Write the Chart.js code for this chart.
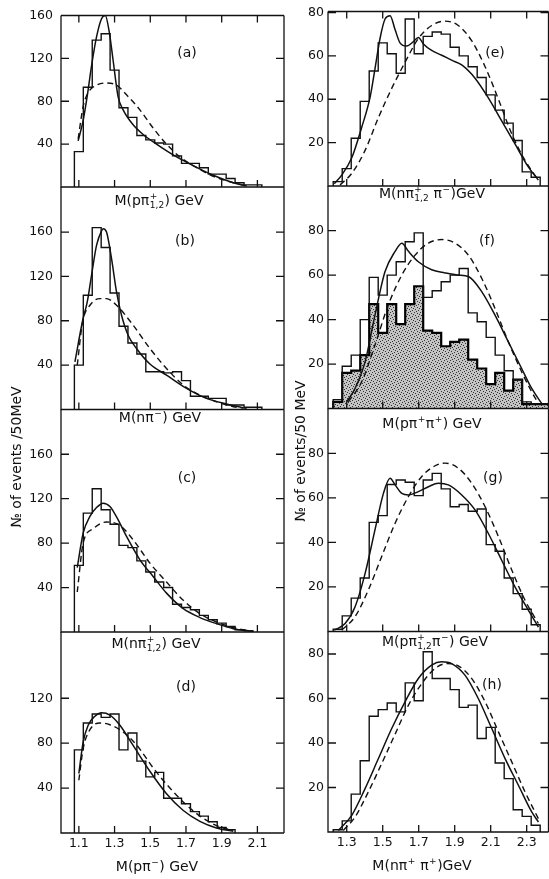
<!DOCTYPE html>
<html>
<head>
<meta charset="utf-8">
<script src="https://cdn.jsdelivr.net/npm/chart.js@4.4.1/dist/chart.umd.min.js"></script>
<style>
html, body { margin: 0; padding: 0; background: #fff; }
#wrap { position: relative; width: 549px; height: 879px; }
#wrap canvas { position: absolute; left: 0; top: 0; }
</style>
</head>
<body>
<div id="wrap"></div>
<script>
// 50 MeV bins
var binW = 0.05;
var binStartL = 1.075;
var binStartR = 1.225;

var xTicksL = [1.1, 1.3, 1.5, 1.7, 1.9, 2.1];
var xTicksR = [1.3, 1.5, 1.7, 1.9, 2.1, 2.3];
var yTicksL = [40, 80, 120, 160];
var yTicksD = [40, 80, 120];
var yTicksR = [20, 40, 60, 80];

// histograms (events per bin)
var histA = [33, 93, 137, 143, 109, 74, 65, 48, 44, 41, 40, 29, 22, 22, 18, 12, 12, 8, 4, 2, 2];
var histB = [40, 103, 164, 146, 105, 75, 60, 50, 34, 34, 33, 34, 26, 12, 12, 10, 10, 4, 4, 2, 2];
var histC = [60, 107, 129, 110, 97, 78, 76, 64, 54, 45, 40, 25, 22, 20, 15, 11, 8, 5, 2, 1];
var histD = [74, 98, 106, 103, 106, 74, 89, 64, 50, 54, 31, 31, 26, 19, 15, 10, 5, 3];
var histE = [2, 8, 22, 39, 53, 66, 61, 52, 77, 61, 69, 71, 70, 64, 60, 55, 50, 42, 35, 29, 21, 6.5, 4];
var histF = [4, 19, 24, 40, 59, 51, 60, 66, 75, 79, 50, 53, 57, 60, 63, 43, 39, 32, 24, 17, 13, 3, 2, 2];
var shadedF = [3, 16, 17, 24, 47, 34, 47, 38, 47, 55, 35, 34, 28, 30, 31, 22, 18, 11, 16, 8, 13, 2, 2, 2];
var histG = [1, 7, 15, 24, 49, 52, 66, 68, 67, 61, 68, 71, 64, 56, 57, 54, 55, 39, 36, 24, 17, 10, 3];
var histH = [1, 5, 17, 32, 52, 55, 58, 54, 67, 59, 81, 69, 69, 64, 56, 57, 42, 47, 31, 24, 10, 7, 3];

// fitted curves, [mass GeV, events]
var solidA = [[1.096,43],[1.124,62],[1.147,85],[1.171,113],[1.199,140],[1.227,157],[1.248,160],[1.27,145],[1.292,118],[1.32,84],[1.348,72],[1.404,58],[1.46,49],[1.535,40],[1.628,30],[1.74,20],[1.853,11],[1.965,4],[2.04,1]];
var dashA = [[1.096,45],[1.124,75],[1.152,88],[1.199,95],[1.255,97],[1.311,95],[1.367,86],[1.442,72],[1.516,55],[1.591,40],[1.666,28],[1.74,20],[1.853,10],[1.965,4],[2.04,1]];
var solidB = [[1.078,43],[1.121,80],[1.147,97],[1.171,121],[1.199,148],[1.227,161],[1.236,163],[1.255,160],[1.283,136],[1.311,106],[1.339,85],[1.376,67],[1.423,55],[1.498,41],[1.591,31],[1.703,19],[1.815,10],[1.927,5],[2.021,1.5]];
var dashB = [[1.091,40],[1.121,79],[1.162,94],[1.218,100],[1.255,100],[1.311,94],[1.404,76],[1.498,55],[1.591,37],[1.685,22],[1.778,13],[1.871,7],[1.965,2.5],[2.04,1]];
var solidC = [[1.091,58],[1.124,89],[1.162,104],[1.199,112],[1.236,116],[1.274,113],[1.32,101],[1.367,86],[1.442,65],[1.516,50],[1.591,35],[1.685,21],[1.778,13],[1.871,7.5],[1.965,3],[2.077,0.6]];
var dashC = [[1.091,36],[1.124,80],[1.18,93],[1.255,99],[1.33,96],[1.404,83],[1.498,62],[1.591,45],[1.685,28.5],[1.778,16.5],[1.871,9],[1.965,4],[2.077,0.6]];
var solidD = [[1.1,53],[1.124,81],[1.152,96],[1.19,104],[1.227,107],[1.274,105],[1.33,96],[1.404,78],[1.498,55],[1.591,35],[1.685,20],[1.778,10.4],[1.871,4.5],[1.965,1.5]];
var dashD = [[1.1,47],[1.124,75],[1.162,92],[1.218,98],[1.274,96.4],[1.348,90],[1.423,78.5],[1.516,58],[1.61,40],[1.703,25],[1.797,13],[1.89,5.4],[1.965,2.4]];
var solidE = [[1.231,1],[1.272,5],[1.328,13],[1.383,27],[1.43,41],[1.457,54],[1.485,68],[1.513,77],[1.541,78.5],[1.569,72],[1.596,66],[1.633,64.5],[1.67,66.5],[1.698,68.5],[1.726,65.5],[1.772,62.5],[1.828,60.3],[1.883,58],[1.939,55.8],[2.013,49.7],[2.087,40.6],[2.161,30],[2.235,19.4],[2.309,8.8],[2.365,2.7]];
var dashE = [[1.263,0.5],[1.328,5.8],[1.402,16.4],[1.476,31.5],[1.55,45],[1.624,57],[1.698,68],[1.772,74],[1.846,76],[1.92,74],[1.994,67],[2.069,55],[2.143,40],[2.217,24],[2.291,11.8],[2.365,2.7]];
var solidF = [[1.3,3],[1.346,9],[1.402,21],[1.457,42],[1.513,61.6],[1.569,70.7],[1.606,74.4],[1.643,70.7],[1.698,66],[1.772,62.4],[1.846,61],[1.92,60],[1.976,59.4],[2.05,52.6],[2.124,42],[2.198,30],[2.272,18],[2.328,9],[2.383,2.3]];
var dashF = [[1.309,3],[1.383,12],[1.457,28.6],[1.531,46.6],[1.606,60],[1.68,69],[1.754,74.4],[1.828,76],[1.902,74.4],[1.976,69],[2.05,58.6],[2.124,45],[2.198,30],[2.272,16.5],[2.328,7.5],[2.365,2.3]];
var solidG = [[1.231,0.6],[1.291,3.6],[1.346,11],[1.402,26],[1.457,45.6],[1.504,62],[1.541,68.8],[1.569,65.8],[1.606,62],[1.643,61.3],[1.698,62.8],[1.754,65],[1.809,66.6],[1.865,65.8],[1.939,61.3],[2.013,54.6],[2.087,44],[2.161,32],[2.235,20],[2.309,9.6],[2.365,2]];
var dashG = [[1.272,0.6],[1.346,6.6],[1.42,18.6],[1.494,33.6],[1.569,48.6],[1.643,60.6],[1.717,69.6],[1.791,74.4],[1.846,75.6],[1.92,73.3],[1.994,66.6],[2.069,56],[2.143,42.6],[2.217,27.6],[2.291,14],[2.365,3.6]];
var solidH = [[1.254,0.7],[1.328,7.5],[1.402,19.5],[1.476,33],[1.55,46.5],[1.624,58.5],[1.698,69],[1.772,75],[1.828,76.5],[1.883,75.7],[1.957,70.5],[2.031,60],[2.106,46.5],[2.18,33],[2.254,21],[2.328,9],[2.365,4.5]];
var dashH = [[1.281,0.7],[1.346,6.7],[1.42,18],[1.494,30.7],[1.569,44],[1.643,57],[1.717,66.7],[1.791,73.5],[1.856,75.7],[1.92,74.7],[1.994,69],[2.069,58.5],[2.143,45],[2.217,31.5],[2.291,18],[2.365,6]];

// axis titles: strings are normal text, [sup, sub] pairs are stacked scripts
var titleA = ['M(pπ', ['+', '1,2'], ') GeV'];
var titleB = ['M(nπ', ['−', ''], ') GeV'];
var titleC = ['M(nπ', ['+', '1,2'], ') GeV'];
var titleD = ['M(pπ', ['−', ''], ') GeV'];
var titleE = ['M(nπ', ['+', '1,2'], ' π', ['−', ''], ')GeV'];
var titleF = ['M(pπ', ['+', ''], 'π', ['+', ''], ') GeV'];
var titleG = ['M(pπ', ['+', '1,2'], 'π', ['−', ''], ') GeV'];
var titleH = ['M(nπ', ['+', ''], ' π', ['+', ''], ')GeV'];
var yTitleL = '№ of events /50MeV';
var yTitleR = '№ of events/50 MeV';

var W = 549, H = 879;
var INK = '#111';
var FONT = '"DejaVu Sans", "Liberation Sans", sans-serif';

var cols = {
    L: { left: 61, right: 284, xmin: 1.0, xmax: 2.249, xTicks: xTicksL, yw: 61, ypad: 8, start: binStartL },
    R: { left: 328, right: 549, xmin: 1.196, xmax: 2.424, xTicks: xTicksR, yw: 40, ypad: 4, start: binStartR }
};

var panels = [
    { col: 'L', top: 10, bottom: 187, ymax: 160, yTicks: yTicksL, hist: histA, solid: solidA, dash: dashA, letter: '(a)', lpos: [187, 53], title: titleA, tpos: [159, 205], topBorder: true },
    { col: 'L', top: 187, bottom: 409.5, ymax: 200.6, yTicks: yTicksL, hist: histB, solid: solidB, dash: dashB, letter: '(b)', lpos: [185, 241], title: titleB, tpos: [160, 422] },
    { col: 'L', top: 409.5, bottom: 632, ymax: 200.3, yTicks: yTicksL, hist: histC, solid: solidC, dash: dashC, letter: '(c)', lpos: [187, 478], title: titleC, tpos: [156, 648], yTitle: yTitleL, ytpos: [17, 457] },
    { col: 'L', top: 632, bottom: 833, ymax: 179, yTicks: yTicksD, hist: histD, solid: solidD, dash: dashD, letter: '(d)', lpos: [186, 687], title: titleD, tpos: [157, 871], showX: true },
    { col: 'R', top: 8, bottom: 186, ymax: 80.45, yTicks: yTicksR, hist: histE, solid: solidE, dash: dashE, letter: '(e)', lpos: [495, 53], title: titleE, tpos: [432, 198], topBorder: true },
    { col: 'R', top: 186, bottom: 408.5, ymax: 100.1, yTicks: yTicksR, hist: histF, shaded: shadedF, solid: solidF, dash: dashF, letter: '(f)', lpos: [487, 241], title: titleF, tpos: [432, 428] },
    { col: 'R', top: 408.5, bottom: 631.5, ymax: 100.1, yTicks: yTicksR, hist: histG, solid: solidG, dash: dashG, letter: '(g)', lpos: [493, 478], title: titleG, tpos: [435, 646], yTitle: yTitleR, ytpos: [301, 451] },
    { col: 'R', top: 631.5, bottom: 832, ymax: 90.1, yTicks: yTicksR, hist: histH, solid: solidH, dash: dashH, letter: '(h)', lpos: [492, 685], title: titleH, tpos: [422, 870], showX: true }
];

function histPoints(start, vals) {
    var pts = [{ x: start, y: 0 }];
    vals.forEach(function (v, k) { pts.push({ x: start + k * binW, y: v }); });
    var end = start + vals.length * binW;
    pts.push({ x: end, y: vals[vals.length - 1] });
    pts.push({ x: end, y: 0 });
    return pts;
}

function curvePoints(arr) {
    return arr.map(function (p) { return { x: p[0], y: p[1] }; });
}

function stipple() {
    var c = document.createElement('canvas');
    c.width = 6; c.height = 6;
    var g = c.getContext('2d');
    g.fillStyle = '#c4c4c4';
    g.fillRect(0, 0, 6, 6);
    g.fillStyle = '#333';
    [[0, 0], [3, 1], [1, 3], [4, 4], [5, 2], [2, 5]].forEach(function (d) { g.fillRect(d[0], d[1], 1, 1); });
    return g.createPattern(c, 'repeat');
}

function drawRich(ctx, parts, cx, cy) {
    var big = '14px ' + FONT, small = '9px ' + FONT;
    var widths = parts.map(function (p) {
        if (typeof p === 'string') { ctx.font = big; return ctx.measureText(p).width; }
        ctx.font = small;
        return Math.max(ctx.measureText(p[0]).width, ctx.measureText(p[1]).width) + 1;
    });
    var total = widths.reduce(function (a, b) { return a + b; }, 0);
    var x = cx - total / 2;
    ctx.textAlign = 'left';
    ctx.textBaseline = 'alphabetic';
    parts.forEach(function (p, i) {
        if (typeof p === 'string') {
            ctx.font = big; ctx.fillText(p, x, cy);
        } else {
            ctx.font = small;
            if (p[0]) ctx.fillText(p[0], x + 0.5, cy - 6);
            if (p[1]) ctx.fillText(p[1], x + 0.5, cy + 3);
        }
        x += widths[i];
    });
}

// frame, inward ticks and labels
var framePlugin = {
    id: 'frame',
    afterDraw: function (chart) {
        var p = chart.options.plugins.frame;
        var ctx = chart.ctx, a = chart.chartArea;
        var xs = chart.scales.x, ys = chart.scales.y;
        var r = a.right >= W ? W - 0.5 : a.right;
        ctx.save();
        ctx.strokeStyle = INK;
        ctx.lineWidth = 1.3;
        ctx.beginPath();
        ctx.moveTo(a.left, a.top); ctx.lineTo(a.left, a.bottom); ctx.lineTo(r, a.bottom);
        ctx.moveTo(r, a.top); ctx.lineTo(r, a.bottom);
        if (p.topBorder) { ctx.moveTo(a.left, a.top); ctx.lineTo(r, a.top); }
        xs.ticks.forEach(function (t) {
            var px = xs.getPixelForValue(t.value);
            ctx.moveTo(px, a.bottom); ctx.lineTo(px, a.bottom - 7);
            if (p.topBorder) { ctx.moveTo(px, a.top); ctx.lineTo(px, a.top + 7); }
        });
        ys.ticks.forEach(function (t) {
            var py = ys.getPixelForValue(t.value);
            ctx.moveTo(a.left, py); ctx.lineTo(a.left + 8, py);
            ctx.moveTo(r, py); ctx.lineTo(r - 8, py);
        });
        ctx.stroke();

        ctx.fillStyle = INK;
        ctx.font = '14px ' + FONT;
        ctx.textAlign = 'center';
        ctx.textBaseline = 'middle';
        ctx.fillText(p.letter, p.lpos[0], p.lpos[1]);
        drawRich(ctx, p.title, p.tpos[0], p.tpos[1]);
        if (p.yTitle) {
            ctx.save();
            ctx.translate(p.ytpos[0], p.ytpos[1]);
            ctx.rotate(-Math.PI / 2);
            ctx.font = '14px ' + FONT;
            ctx.textAlign = 'center';
            ctx.textBaseline = 'middle';
            ctx.fillText(p.yTitle, 0, 0);
            ctx.restore();
        }
        ctx.restore();
    }
};

var wrap = document.getElementById('wrap');
var pattern = stipple();

panels.forEach(function (p) {
    var c = cols[p.col];
    var xh = p.showX ? 22 : 0;
    var canvas = document.createElement('canvas');
    canvas.width = W; canvas.height = H;
    wrap.appendChild(canvas);

    var datasets = [
        { data: curvePoints(p.dash), borderColor: INK, borderWidth: 1.4, borderDash: [6, 4], cubicInterpolationMode: 'monotone', fill: false },
        { data: curvePoints(p.solid), borderColor: INK, borderWidth: 1.5, cubicInterpolationMode: 'monotone', fill: false },
        { data: histPoints(c.start, p.hist), borderColor: INK, borderWidth: 1.4, stepped: true, fill: false }
    ];
    if (p.shaded) {
        datasets.push({ data: histPoints(c.start, p.shaded), borderColor: '#000', borderWidth: 2.2, stepped: true, fill: 'origin', backgroundColor: pattern });
    }

    new Chart(canvas, {
        type: 'line',
        data: { datasets: datasets },
        plugins: [framePlugin],
        options: {
            responsive: false,
            animation: false,
            events: [],
            layout: { padding: { left: c.left - c.yw, right: W - c.right, top: p.top, bottom: H - p.bottom - xh } },
            elements: { point: { radius: 0 } },
            plugins: {
                legend: { display: false },
                tooltip: { enabled: false },
                frame: { topBorder: !!p.topBorder, letter: p.letter, lpos: p.lpos, title: p.title, tpos: p.tpos, yTitle: p.yTitle, ytpos: p.ytpos }
            },
            scales: {
                x: {
                    type: 'linear',
                    min: c.xmin,
                    max: c.xmax,
                    afterBuildTicks: function (s) { s.ticks = c.xTicks.map(function (v) { return { value: v }; }); },
                    afterFit: function (s) { s.height = xh; },
                    grid: { display: false, drawTicks: false },
                    border: { display: false },
                    ticks: {
                        display: !!p.showX,
                        padding: 3,
                        color: INK,
                        font: { family: FONT, size: 12.5 },
                        maxRotation: 0,
                        autoSkip: false,
                        callback: function (v) { return v.toFixed(1); }
                    }
                },
                y: {
                    min: 0,
                    max: p.ymax,
                    afterBuildTicks: function (s) { s.ticks = p.yTicks.map(function (v) { return { value: v }; }); },
                    afterFit: function (s) { s.width = c.yw; },
                    grid: { display: false, drawTicks: false },
                    border: { display: false },
                    ticks: {
                        padding: c.ypad,
                        color: INK,
                        autoSkip: false,
                        font: { family: FONT, size: 12.5 }
                    }
                }
            }
        }
    });
});
</script>
</body>
</html>
